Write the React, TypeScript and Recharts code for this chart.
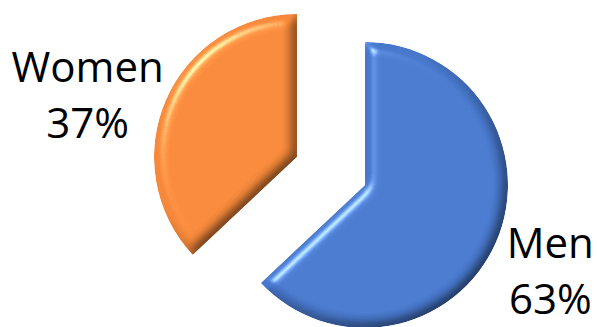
import React from "react";
import { PieChart, Pie, Cell } from "recharts";

// ---- data ----
const categories = ["Men", "Women"];
const shares = [63, 37];
const colors = ["#4878cc", "#f5883a"];

// ---- layout constants (not data) ----
const W = 597;
const H = 327;
const RADIUS = 143;
// each slice is exploded: its own pie center
const sliceCenters = [
  { cx: 365, cy: 185 },
  { cx: 297, cy: 157 },
];
const LABEL_GAP = 60;
const labelNudge = [
  { dx: -1, dy: -8 },
  { dx: -23, dy: 6 },
];
const LINE_STEP = 56;

const data = categories.map((name, i) => ({ name, value: shares[i] }));
const RAD = Math.PI / 180;

function makeLabel(sliceIndex: number) {
  return (props: any) => {
    const { cx, cy, midAngle, outerRadius, index, percent, name } = props;
    if (index !== sliceIndex) return null;
    const r = outerRadius + LABEL_GAP;
    const x = cx + r * Math.cos(-midAngle * RAD) + labelNudge[index].dx;
    const y = cy + r * Math.sin(-midAngle * RAD) + labelNudge[index].dy;
    return (
      <text
        x={x}
        y={y}
        textAnchor="middle"
        fill="#000"
        fontFamily="'Open Sans', sans-serif"
        fontSize={42}
      >
        <tspan x={x} y={y}>
          {name}
        </tspan>
        <tspan x={x} y={y + LINE_STEP}>
          {`${Math.round(percent * 100)}%`}
        </tspan>
      </text>
    );
  };
}

const elev = 50;
const shadeSlope = 0.6 / Math.sin(elev * RAD);
const shadeIntercept = 0.4;

export default function App() {
  return (
    <div style={{ width: W, height: H }}>
      <style>{`body{margin:0}`}</style>
      <PieChart width={W} height={H} margin={{ top: 0, right: 0, bottom: 0, left: 0 }}>
        <defs>
          <filter
            id="bevel"
            x="-10%"
            y="-10%"
            width="120%"
            height="120%"
            colorInterpolationFilters="sRGB"
          >
            <feGaussianBlur in="SourceAlpha" stdDeviation="6" result="blur" />
            <feDiffuseLighting
              in="blur"
              surfaceScale="6"
              diffuseConstant="1"
              lightingColor="#ffffff"
              result="diff"
            >
              <feDistantLight azimuth="225" elevation={elev} />
            </feDiffuseLighting>
            <feComponentTransfer in="diff" result="diffN">
              <feFuncR type="linear" slope={shadeSlope} intercept={shadeIntercept} />
              <feFuncG type="linear" slope={shadeSlope} intercept={shadeIntercept} />
              <feFuncB type="linear" slope={shadeSlope} intercept={shadeIntercept} />
            </feComponentTransfer>
            <feComposite
              in="SourceGraphic"
              in2="diffN"
              operator="arithmetic"
              k1="1"
              k2="0"
              k3="0"
              k4="0"
              result="shaded"
            />
            <feSpecularLighting
              in="blur"
              surfaceScale="6"
              specularConstant="1"
              specularExponent="50"
              lightingColor="#ffffff"
              result="spec"
            >
              <feDistantLight azimuth="225" elevation={elev} />
            </feSpecularLighting>
            <feComposite
              in="shaded"
              in2="spec"
              operator="arithmetic"
              k1="0"
              k2="1"
              k3="0.45"
              k4="0"
              result="lit"
            />
            <feComposite in="lit" in2="SourceAlpha" operator="in" />
          </filter>
        </defs>
        {sliceCenters.map((c, s) => (
          <Pie
            key={s}
            data={data}
            dataKey="value"
            nameKey="name"
            cx={c.cx}
            cy={c.cy}
            outerRadius={RADIUS}
            startAngle={90}
            endAngle={-270}
            stroke="none"
            isAnimationActive={false}
            labelLine={false}
            label={makeLabel(s)}
          >
            {data.map((d, i) => (
              <Cell
                key={d.name}
                fill={i === s ? colors[i] : "none"}
                stroke="none"
                filter={i === s ? "url(#bevel)" : undefined}
              />
            ))}
          </Pie>
        ))}
      </PieChart>
    </div>
  );
}
